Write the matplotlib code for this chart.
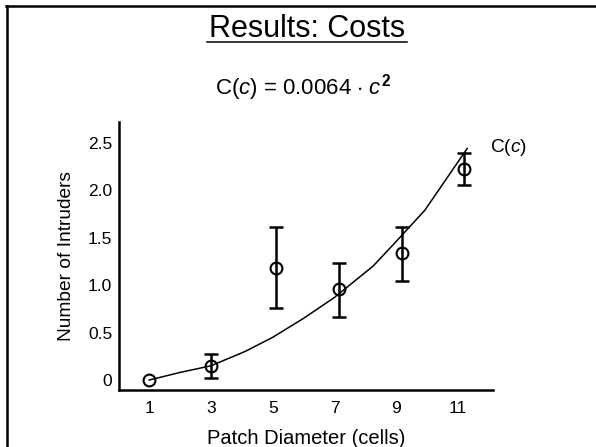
import numpy as np
import matplotlib
matplotlib.use('Agg')
import matplotlib.pyplot as plt
from matplotlib.lines import Line2D

plt.rcParams['font.family'] = ['Liberation Sans', 'DejaVu Sans']
plt.rcParams['mathtext.fontset'] = 'custom'
plt.rcParams['mathtext.rm'] = 'Liberation Sans'
plt.rcParams['mathtext.it'] = 'Liberation Sans:italic'
plt.rcParams['mathtext.bf'] = 'Liberation Sans:bold'

# measured intruders per patch diameter
diam = [1, 3, 5.1, 7.15, 9.2, 11.2]
intruders = [0.0, 0.15, 1.18, 0.96, 1.34, 2.22]
err_lo = [0.0, 0.13, 0.42, 0.30, 0.30, 0.17]
err_hi = [0.0, 0.12, 0.43, 0.27, 0.27, 0.17]

# cost curve C(c)
curve_x = [1, 2, 3, 4.1, 5, 6, 7, 8.25, 9, 9.93, 11.3]
curve_y = [0.0, 0.08, 0.15, 0.30, 0.45, 0.65, 0.87, 1.20, 1.46, 1.79, 2.44]

xticks = [1, 3, 5, 7, 9, 11]
yticks = [0, 0.5, 1.0, 1.5, 2.0, 2.5]
ytick_labels = ['0', '0.5', '1.0', '1.5', '2.0', '2.5']

W, H = 596, 447
fig = plt.figure(figsize=(5.96, 4.47), dpi=100)
ax = fig.add_axes([0.2, 0.1275, 0.627, 0.6])

ax.plot(curve_x, curve_y, color='black', lw=1.1)
ax.errorbar(diam[1:], intruders[1:], yerr=[err_lo[1:], err_hi[1:]], fmt='none',
            ecolor='black', elinewidth=1.8, capsize=5, capthick=1.8)
ax.plot(diam, intruders, 'o', ms=8.5, mfc='none', mec='black', mew=1.5)

ax.set_xlim(0.03, 12.13)
ax.set_ylim(-0.105, 2.72)
ax.set_xticks(xticks)
ax.set_yticks(yticks)
ax.set_yticklabels(ytick_labels)
ax.tick_params(length=0, labelsize=12.5)
ax.tick_params(axis='y', pad=5)
ax.tick_params(axis='x', pad=8)
for s in ['top', 'right']:
    ax.spines[s].set_visible(False)
for s in ['left', 'bottom']:
    ax.spines[s].set_linewidth(1.8)

ax.set_xlabel('Patch Diameter (cells)', fontsize=14.5, labelpad=9)
ax.set_ylabel('Number of Intruders', fontsize=13.8, labelpad=9)

fig.text(490 / W, 1 - 152 / H, r'C($\mathit{c}$)', fontsize=13.7, va='baseline', ha='left')

fig.text(0.5 + 9 / W, 1 - 37 / H, 'Results: Costs', fontsize=22, ha='center', va='baseline')
fig.add_artist(Line2D([207 / W, 407 / W], [1 - 42 / H, 1 - 42 / H],
                      color='black', lw=1.1))
fig.text(303 / W, 1 - 94 / H, r'C($\mathit{c}$) = 0.0064 $\cdot$ $\mathit{c}^\mathbf{2}$',
         fontsize=16, ha='center', va='baseline')

# frame around the slide
fig.add_artist(Line2D([6 / W, 1], [1 - 6 / H, 1 - 6 / H], color='black', lw=1.8))
fig.add_artist(Line2D([7 / W, 7 / W], [0, 1 - 6 / H], color='black', lw=1.8))

fig.savefig('out.png', dpi=100)
